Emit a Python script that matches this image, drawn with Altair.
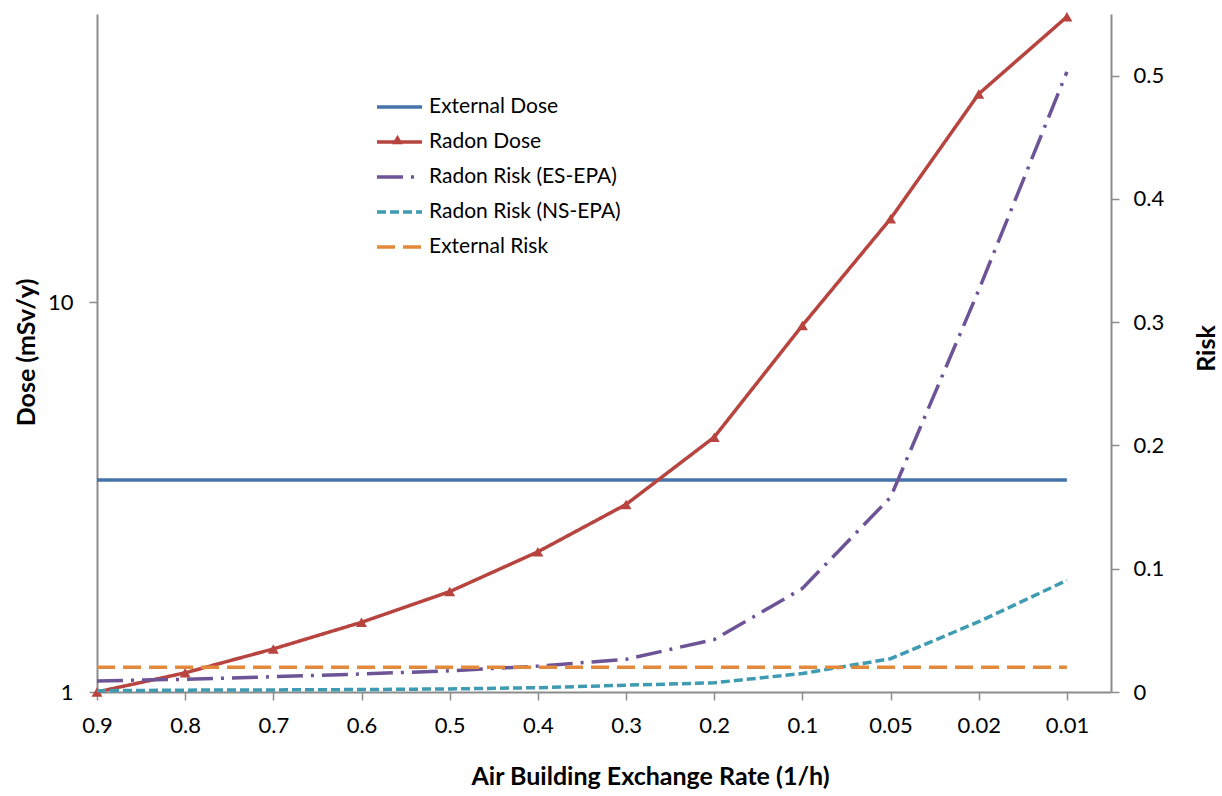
import altair as alt
import pandas as pd

# Air exchange rates (1/h), plotted as evenly spaced categories
rates = ["0.9", "0.8", "0.7", "0.6", "0.5", "0.4", "0.3", "0.2", "0.1", "0.05", "0.02", "0.01"]

# Doses (mSv/y), left log axis
external_dose = [3.5, 3.5, 3.5, 3.5, 3.5, 3.5, 3.5, 3.5, 3.5, 3.5, 3.5, 3.5]
radon_dose = [1.0, 1.12, 1.29, 1.51, 1.81, 2.29, 3.03, 4.51, 8.73, 16.4, 34.3, 54.1]

# Risks, right linear axis
risk_es_epa = [0.009, 0.0103, 0.0124, 0.0146, 0.0172, 0.021, 0.0265, 0.0426, 0.084, 0.158, 0.326, 0.503]
risk_ns_epa = [0.001, 0.0015, 0.0017, 0.002, 0.0025, 0.0035, 0.0055, 0.0075, 0.015, 0.027, 0.057, 0.0906]
external_risk = [0.02, 0.02, 0.02, 0.02, 0.02, 0.02, 0.02, 0.02, 0.02, 0.02, 0.02, 0.02]

series_names = ["External Dose", "Radon Dose", "Radon Risk (ES-EPA)", "Radon Risk (NS-EPA)", "External Risk"]
series_colors = ["#4673AA", "#B7443F", "#6D5496", "#3E9BB1", "#E2893B"]
series_dashes = [[1, 0], [1, 0], [26, 8, 3, 8], [9, 4], [18, 8]]
RADON_RED = "#B7443F"

FONT = "Lato"
LINE_W = 3.5


def long_table(named_values):
    rows = []
    for name, values in named_values:
        for i, (rate, v) in enumerate(zip(rates, values)):
            rows.append({"series": name, "idx": i, "rate": rate, "value": v})
    return pd.DataFrame(rows)


dose_df = long_table([("External Dose", external_dose), ("Radon Dose", radon_dose)])
risk_df = long_table([
    ("Radon Risk (ES-EPA)", risk_es_epa),
    ("Radon Risk (NS-EPA)", risk_ns_epa),
    ("External Risk", external_risk),
])
radon_pts = dose_df[dose_df["series"] == "Radon Dose"].assign(marker="Radon Dose")

label_expr = "[" + ",".join("'%s'" % r for r in rates) + "][datum.value]"

x_enc = alt.X(
    "idx:Q",
    scale=alt.Scale(domain=[0, len(rates) - 0.5], nice=False, zero=False),
    axis=alt.Axis(
        values=list(range(len(rates))),
        labelExpr=label_expr,
        title="Air Building Exchange Rate (1/h)",
        titleX=553, titleY=84, titleAlign="center", titleBaseline="middle",
        labelPadding=15, tickSize=8,
    ),
)

legend = alt.Legend(
    title=None, orient="none", legendX=278, legendY=83,
    symbolType="stroke", symbolSize=2025, symbolStrokeWidth=LINE_W,
    clipHeight=20, rowPadding=14, labelOffset=5, padding=0, labelLimit=0,
    labelFont=FONT, labelFontSize=21, labelColor="#000000",
)

color_enc = alt.Color(
    "series:N", scale=alt.Scale(domain=series_names, range=series_colors),
    legend=legend, sort=series_names,
)
dash_enc = alt.StrokeDash(
    "series:N", scale=alt.Scale(domain=series_names, range=series_dashes),
    legend=legend, sort=series_names,
)

dose_y = alt.Y(
    "value:Q",
    scale=alt.Scale(type="log", domain=[1, 55], nice=False),
    axis=alt.Axis(
        orient="left", values=[1, 10], labelExpr="datum.value",
        title="Dose (mSv/y)", titleX=-71, titleY=338, titleAngle=270,
        titleAlign="center", titleBaseline="middle",
        labelPadding=16, tickSize=8,
    ),
)

dose_lines = alt.Chart(dose_df).mark_line(strokeWidth=LINE_W).encode(
    x=x_enc, y=dose_y, color=color_enc, strokeDash=dash_enc, detail="series:N",
)

# Triangle markers on the radon dose curve; their one-entry legend puts a
# triangle on top of the "Radon Dose" line swatch.
dose_markers = alt.Chart(radon_pts).mark_point(
    filled=True, size=120, opacity=1, color=RADON_RED
).encode(
    x=x_enc,
    y=dose_y,
    shape=alt.Shape(
        "marker:N",
        scale=alt.Scale(domain=["Radon Dose"], range=["triangle-up"]),
        legend=alt.Legend(
            title=None, orient="none", legendX=295, legendY=120,
            symbolSize=120, symbolFillColor=RADON_RED, symbolStrokeColor=RADON_RED,
            symbolStrokeWidth=0, symbolOpacity=1, labelOpacity=0, labelFontSize=4,
            padding=0,
        ),
    ),
)

risk_lines = alt.Chart(risk_df).mark_line(strokeWidth=LINE_W).encode(
    x=x_enc,
    y=alt.Y(
        "value:Q",
        scale=alt.Scale(domain=[0, 0.55], nice=False),
        axis=alt.Axis(
            orient="right", values=[0, 0.1, 0.2, 0.3, 0.4, 0.5], format="~g",
            title="Risk", titleX=95, titleY=334, titleAngle=270,
            titleAlign="center", titleBaseline="middle",
            labelPadding=14, tickSize=8,
        ),
    ),
    color=color_enc, strokeDash=dash_enc, detail="series:N",
)

chart = (
    alt.layer(alt.layer(dose_lines, dose_markers), risk_lines)
    .resolve_scale(y="independent")
    .properties(
        width=1014, height=678,
        padding={"left": 97, "top": 14, "right": 111, "bottom": 104},
        autosize=alt.AutoSizeParams(type="none"),
        background="white",
    )
    .configure_view(stroke=None)
    .configure_axis(
        grid=False, labelFlush=False,
        domainColor="#8C8C8C", domainWidth=2,
        tickColor="#8C8C8C", tickWidth=1.5,
        labelFont=FONT, labelFontSize=22, labelColor="#000000",
        titleFont=FONT, titleFontSize=25, titleFontWeight="bold", titleColor="#000000",
    )
)

chart.save("out.html", embed_options={"renderer": "svg", "actions": False})
